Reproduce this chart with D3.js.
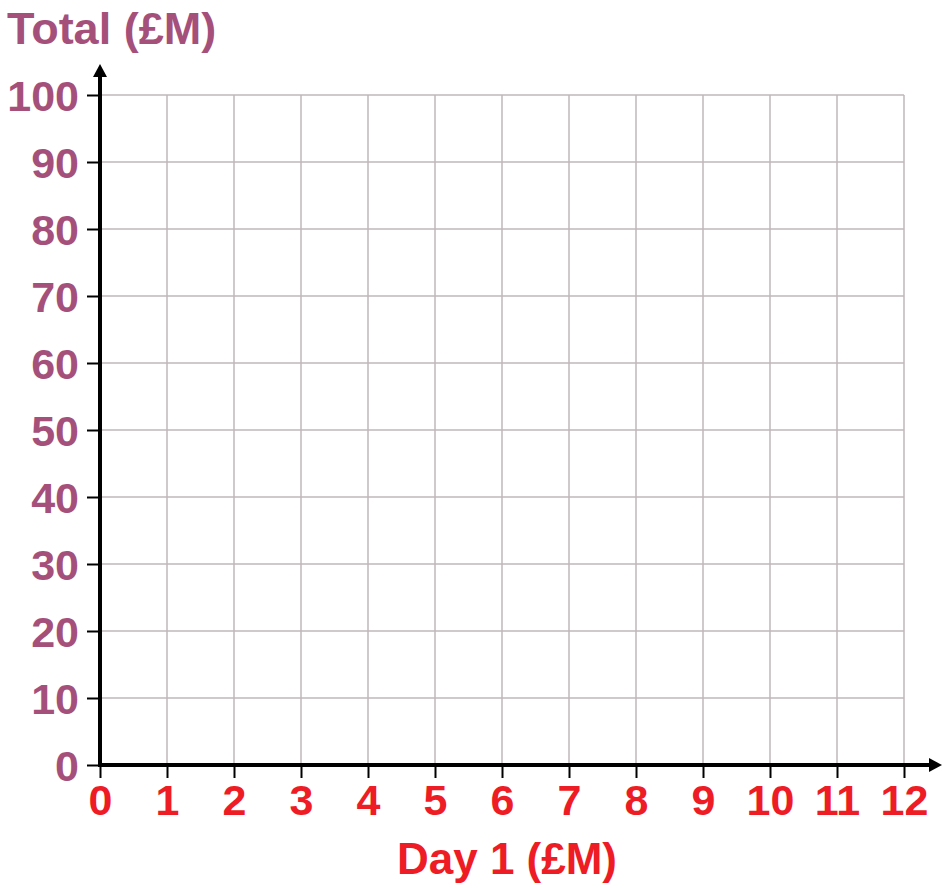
<!DOCTYPE html>
<html><head><meta charset="utf-8">
<script src="https://cdn.jsdelivr.net/npm/d3@7/dist/d3.min.js"></script>
<style>
html,body{margin:0;padding:0;background:#fff;}
svg{display:block;}
text{font-family:"Liberation Sans",Arial,sans-serif;font-weight:bold;}
</style></head>
<body>
<svg id="chart" width="942" height="888"></svg>
<script>
const xTicks = [0,1,2,3,4,5,6,7,8,9,10,11,12];
const yTicks = [0,10,20,30,40,50,60,70,80,90,100];
const xTitle = "Day 1 (£M)";
const yTitle = "Total (£M)";

const svg = d3.select("#chart");
const x = d3.scaleLinear().domain([0,12]).range([100,904]);
const y = d3.scaleLinear().domain([0,100]).range([765,95]);
const purple = "#a4507b", red = "#ee1c24";

// grid
svg.append("g").selectAll("line").data(xTicks.slice(1)).join("line")
  .attr("x1", d=>x(d)).attr("x2", d=>x(d)).attr("y1", y(0)).attr("y2", y(100))
  .attr("stroke", "#bfb7bb").attr("stroke-width", 1.5);
svg.append("g").selectAll("line").data(yTicks.slice(1)).join("line")
  .attr("x1", x(0)).attr("x2", x(12)).attr("y1", d=>y(d)).attr("y2", d=>y(d))
  .attr("stroke", "#bfb7bb").attr("stroke-width", 1.5);

// x axis ticks + labels
const xa = svg.append("g").attr("transform", `translate(0,${y(0)})`)
  .call(d3.axisBottom(x).tickValues(xTicks).tickSize(13).tickPadding(6).tickFormat(d3.format("d")));
xa.select(".domain").remove();
xa.selectAll(".tick line").attr("stroke", "#000").attr("stroke-width", 2);
xa.selectAll(".tick text").attr("fill", red).attr("font-size", 43)
  .attr("font-family", "'Liberation Sans',Arial,sans-serif").attr("font-weight", "bold")
  .attr("dy", null).attr("y", 50);

// y axis ticks + labels
const ya = svg.append("g").attr("transform", `translate(${x(0)},0)`)
  .call(d3.axisLeft(y).tickValues(yTicks).tickSize(13).tickPadding(8).tickFormat(d3.format("d")));
ya.select(".domain").remove();
ya.selectAll(".tick line").attr("stroke", "#000").attr("stroke-width", 2);
ya.selectAll(".tick text").attr("fill", purple).attr("font-size", 43)
  .attr("font-family", "'Liberation Sans',Arial,sans-serif").attr("font-weight", "bold")
  .attr("dy", "0.36em").attr("x", -21);

// main axis lines with arrows
svg.append("line").attr("x1", x(0)).attr("x2", 932).attr("y1", y(0)).attr("y2", y(0))
  .attr("stroke", "#000").attr("stroke-width", 4);
svg.append("path").attr("d", `M942,${y(0)} L929,${y(0)-7} L929,${y(0)+7} Z`).attr("fill", "#000");
svg.append("line").attr("x1", x(0)).attr("x2", x(0)).attr("y1", y(0)+2).attr("y2", 74)
  .attr("stroke", "#000").attr("stroke-width", 4);
svg.append("path").attr("d", `M${x(0)},64 L${x(0)-7},77 L${x(0)+7},77 Z`).attr("fill", "#000");

// titles
svg.append("text").attr("x", 7).attr("y", 44).attr("fill", purple).attr("font-size", 45).text(yTitle);
svg.append("text").attr("x", 507).attr("y", 874).attr("text-anchor", "middle").attr("fill", red)
  .attr("font-size", 44).text(xTitle);
</script>
</body></html>
